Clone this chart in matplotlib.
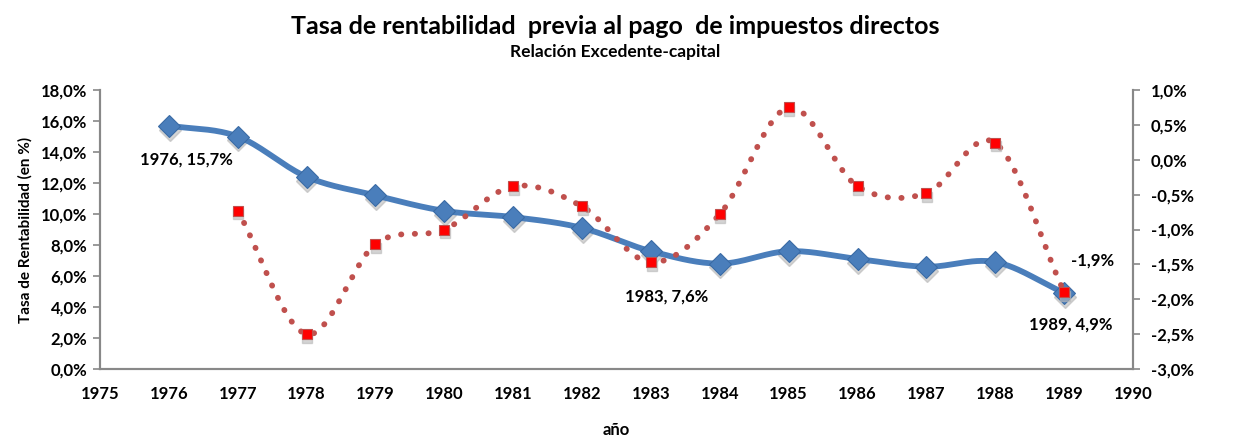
import numpy as np
import matplotlib
matplotlib.use("Agg")
import matplotlib.pyplot as plt
from matplotlib.ticker import FuncFormatter

years_blue = [1976, 1977, 1978, 1979, 1980, 1981, 1982, 1983, 1984, 1985, 1986, 1987, 1988, 1989]
rent_blue = [15.7, 15.0, 12.4, 11.2, 10.2, 9.8, 9.1, 7.6, 6.8, 7.6, 7.1, 6.6, 6.9, 4.9]
years_red = [1977, 1978, 1979, 1980, 1981, 1982, 1983, 1984, 1985, 1986, 1987, 1988, 1989]
var_red = [-0.73, -2.50, -1.21, -1.0, -0.38, -0.67, -1.47, -0.78, 0.75, -0.38, -0.48, 0.24, -1.9]

plt.rcParams['font.family'] = ['Lato', 'DejaVu Sans']
plt.rcParams['font.weight'] = 'bold'


def smooth(x, y, n=30):
    x = np.asarray(x, float)
    y = np.asarray(y, float)
    px = np.concatenate([[2 * x[0] - x[1]], x, [2 * x[-1] - x[-2]]])
    py = np.concatenate([[2 * y[0] - y[1]], y, [2 * y[-1] - y[-2]]])
    xs, ys = [], []
    for i in range(1, len(px) - 2):
        t = np.linspace(0, 1, n, endpoint=False)
        p0, p1, p2, p3 = [np.array([px[j], py[j]]) for j in (i - 1, i, i + 1, i + 2)]
        c1 = p1 + (p2 - p0) / 6
        c2 = p2 - (p3 - p1) / 6
        for tt in t:
            b = ((1 - tt) ** 3) * p1 + 3 * ((1 - tt) ** 2) * tt * c1 + 3 * (1 - tt) * tt ** 2 * c2 + tt ** 3 * p2
            xs.append(b[0]); ys.append(b[1])
    xs.append(x[-1]); ys.append(y[-1])
    return np.array(xs), np.array(ys)


fig = plt.figure(figsize=(12.33, 4.38), dpi=100)
ax = fig.add_axes([100 / 1233, 1 - 369 / 438, 1033 / 1233, 279 / 438])
ax2 = ax.twinx()

# blue series (left axis)
bx, by = smooth(years_blue, rent_blue)
ax.plot(np.array(years_blue) + 0.01, np.array(rent_blue) - 0.25, 'D', ms=11,
        color='#B8B8B8', alpha=0.6, zorder=3)
ax.plot(bx, by, color='#4A7EBB', lw=4.2, solid_capstyle='round', zorder=4)
ax.plot(years_blue, rent_blue, 'D', ms=11, color='#4A7EBB', mec='#3A6BA5', mew=0.8, zorder=5)

# red series (right axis), drawn above the blue one
sx, sy = smooth(years_red, var_red)
ax2.plot(sx, sy, color='#C0504D', lw=4.2, linestyle=(0, (0.05, 2.3)),
         dash_capstyle='round', solid_capstyle='round', zorder=2)
ax2.plot(np.array(years_red) + 0.01, np.array(var_red) - 0.05, 's', ms=7,
         color='#B8B8B8', alpha=0.6, zorder=2)
ax2.plot(years_red, var_red, 's', ms=7, color='#FF0000', mec='#C0504D', mew=0.8, zorder=3)

ax.set_xlim(1975, 1990)
ax.set_ylim(0, 18)
ax.set_xticks(range(1975, 1991))
ax.set_yticks(np.arange(0, 18.1, 2))
ax.yaxis.set_major_formatter(FuncFormatter(lambda v, p: f"{v:.1f}%".replace('.', ',')))
ax2.set_ylim(-3, 1)
ax2.set_yticks(np.arange(-3, 1.01, 0.5))
ax2.yaxis.set_major_formatter(FuncFormatter(lambda v, p: f"{v:.1f}%".replace('.', ',')))

for a in (ax, ax2):
    for s in a.spines.values():
        s.set_color('#888888')
        s.set_linewidth(1.5)
    a.spines['top'].set_visible(False)
ax.tick_params(axis='x', length=0, pad=12, labelsize=12)
ax.tick_params(axis='y', length=5, color='#888888', width=1.2, labelsize=12, pad=4)
ax2.tick_params(axis='y', length=5, color='#888888', width=1.2, labelsize=12, pad=8)
for lab in ax.get_xticklabels() + ax.get_yticklabels() + ax2.get_yticklabels():
    lab.set_fontweight('bold')

ax.set_ylabel('Tasa de Rentabilidad (en %)', fontsize=11, fontweight='bold', labelpad=6)
fig.text(616 / 1233, 1 - 430 / 438, 'año', ha='center', va='center', fontsize=12, fontweight='bold')

fig.text(615 / 1233, 1 - 27 / 438, 'Tasa de rentabilidad  previa al pago  de impuestos directos',
         ha='center', va='center', fontsize=18, fontweight='bold')
fig.text(615 / 1233, 1 - 52 / 438, 'Relación Excedente-capital', ha='center', va='center',
         fontsize=12.5, fontweight='bold')

ax.text(1976.25, 13.5, '1976, 15,7%', ha='center', va='center', fontsize=12, fontweight='bold')
ax.text(1983.23, 4.7, '1983, 7,6%', ha='center', va='center', fontsize=12, fontweight='bold')
ax.text(1989.09, 2.9, '1989, 4,9%', ha='center', va='center', fontsize=12, fontweight='bold')
ax.text(1989.41, 7.0, '-1,9%', ha='center', va='center', fontsize=12, fontweight='bold')

fig.savefig('out.png', dpi=100)
